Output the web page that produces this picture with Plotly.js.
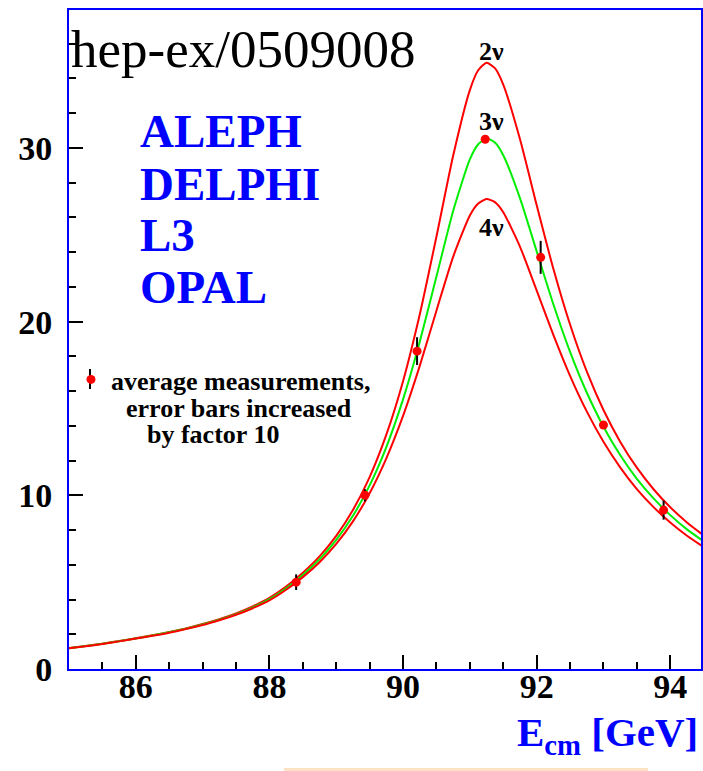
<!DOCTYPE html>
<html>
<head>
<meta charset="utf-8">
<script src="https://cdn.plot.ly/plotly-3.0.1.min.js"></script>
<style>html,body{margin:0;padding:0;background:#fff;}#chart{width:703px;height:771px;}</style>
</head>
<body>
<div id="chart"></div>
<script>
// Centre-of-mass energy grid (GeV) for the theory curves
const energy = [85.00, 85.25, 85.50, 85.75, 86.00, 86.25, 86.50, 86.75, 87.00, 87.25, 87.50, 87.75, 88.00,
  88.25, 88.50, 88.75, 89.00, 89.25, 89.50, 89.75, 90.00, 90.25, 90.50, 90.75, 91.00,
  91.125, 91.25, 91.375,
  91.50, 91.75, 92.00, 92.25, 92.50, 92.75, 93.00, 93.25, 93.50, 93.75, 94.00, 94.25, 94.50];

// Hadronic cross section (nb) for 2, 3 and 4 neutrino families
const sigma2nu = [1.21, 1.33, 1.46, 1.61, 1.77, 1.94, 2.13, 2.34, 2.59, 2.87, 3.20, 3.60, 4.09,
  4.74, 5.54, 6.48, 7.66, 9.15, 11.05, 13.49, 16.57, 20.41, 24.89, 29.55, 33.33,
  34.47, 34.90, 34.59,
  33.65, 30.51, 26.71, 23.04, 19.83, 17.13, 14.91, 13.09, 11.59, 10.35, 9.31, 8.44, 7.69];
const sigma3nu = [1.20, 1.32, 1.45, 1.60, 1.76, 1.93, 2.11, 2.32, 2.56, 2.84, 3.16, 3.55, 4.02,
  4.65, 5.41, 6.31, 7.43, 8.82, 10.57, 12.78, 15.52, 18.84, 22.59, 26.37, 29.34,
  30.21, 30.55, 30.31,
  29.58, 27.11, 24.05, 21.00, 18.26, 15.92, 13.95, 12.32, 10.95, 9.82, 8.86, 8.04, 7.35];
const sigma4nu = [1.19, 1.31, 1.44, 1.59, 1.75, 1.91, 2.09, 2.30, 2.53, 2.81, 3.12, 3.50, 3.95,
  4.56, 5.29, 6.15, 7.20, 8.50, 10.12, 12.13, 14.57, 17.45, 20.63, 23.73, 26.11,
  26.80, 27.06, 26.88,
  26.30, 24.32, 21.80, 19.24, 16.88, 14.83, 13.08, 11.61, 10.36, 9.32, 8.43, 7.67, 7.02];

// Average measurements (error bars x10)
const measE = [88.40, 89.43, 90.21, 91.23, 92.06, 93.00, 93.90];
const measSigma = [5.0, 10.0, 18.3, 30.5, 23.7, 14.05, 9.15];
const measErr10 = [0.45, 0.35, 0.8, 0.12, 0.95, 0.2, 0.55];

const curveLabels = ['2ν', '3ν', '4ν'];
const experiments = ['ALEPH', 'DELPHI', 'L3', 'OPAL'];
const legendLines = ['average measurements,', 'error bars increased', 'by factor 10'];
const xTickVals = [86, 88, 90, 92, 94];
const yTickVals = [0, 10, 20, 30];

const serif = 'Liberation Serif, Times New Roman, serif';
const W = 703, H = 771, ML = 69, MR = 2, MT = 10, MB = 102;
const PW = W - ML - MR, PH = H - MT - MB;
const px = (x) => (x - ML) / PW;
const py = (y) => (H - MB - y) / PH;

const traces = [
  {x: energy, y: sigma2nu, type: 'scatter', mode: 'lines', line: {color: '#ff0000', width: 2, shape: 'spline', smoothing: 0.6}, showlegend: false, hoverinfo: 'skip'},
  {x: energy, y: sigma3nu, type: 'scatter', mode: 'lines', line: {color: '#00ee00', width: 2, shape: 'spline', smoothing: 0.6}, showlegend: false, hoverinfo: 'skip'},
  {x: energy, y: sigma4nu, type: 'scatter', mode: 'lines', line: {color: '#ff0000', width: 2, shape: 'spline', smoothing: 0.6}, showlegend: false, hoverinfo: 'skip'},
  {x: measE, y: measSigma, type: 'scatter', mode: 'markers',
   name: legendLines[0],
   marker: {color: '#ff0000', size: 9, symbol: 'circle'},
   error_y: {type: 'data', array: measErr10, visible: true, color: '#000000', thickness: 2, width: 0},
   showlegend: true}
];

const annotations = [
  {xref: 'paper', yref: 'paper', x: px(69), y: py(49), xanchor: 'left', yanchor: 'middle', showarrow: false,
   text: 'hep-ex/0509008', font: {family: serif, size: 53, color: '#000000'}}
];
const expBaselines = [147, 200, 251, 303];
experiments.forEach((t, i) => annotations.push({
  xref: 'paper', yref: 'paper', x: px(138), y: py(expBaselines[i] - 16), xanchor: 'left', yanchor: 'middle', showarrow: false,
  text: t, font: {family: serif, size: 47, color: '#0000ff', weight: 'bold'}
}));
// second and third legend lines
const legendLineX = [124, 145];
const legendLineY = [408, 435];
[1, 2].forEach((k, j) => annotations.push({
  xref: 'paper', yref: 'paper', x: px(legendLineX[j]), y: py(legendLineY[j]), xanchor: 'left', yanchor: 'middle', showarrow: false,
  text: legendLines[k], font: {family: serif, size: 26, color: '#000000', weight: 'bold'}
}));
const labelY = [35.55, 31.5, 25.4];
curveLabels.forEach((t, i) => annotations.push({
  xref: 'x', yref: 'y', x: 91.32, y: labelY[i], xanchor: 'center', yanchor: 'middle', showarrow: false,
  text: t, font: {family: serif, size: 26, color: '#000000', weight: 'bold'}
}));
annotations.push({
  xref: 'paper', yref: 'paper', x: px(700), y: py(735), xanchor: 'right', yanchor: 'middle', showarrow: false,
  text: 'E<sub>cm</sub> [GeV]', font: {family: serif, size: 41, color: '#0000ff', weight: 'bold'}
});

const axisCommon = {
  showline: true, linecolor: '#0000ff', linewidth: 2, mirror: true,
  showgrid: false, zeroline: false,
  ticks: 'inside', ticklen: 14, tickwidth: 2, tickcolor: '#000000',
  tickfont: {family: serif, size: 34, color: '#000000', weight: 'bold'}
};

const layout = {
  width: W, height: H,
  margin: {l: ML, r: MR, t: MT, b: MB, pad: 0},
  paper_bgcolor: '#ffffff', plot_bgcolor: '#ffffff',
  xaxis: Object.assign({}, axisCommon, {range: [85, 94.46], tickvals: xTickVals, ticktext: xTickVals.map(String),
    ticklabelstandoff: -14,
    minor: {dtick: 0.5, tick0: 85, ticks: 'inside', ticklen: 7, tickwidth: 2, tickcolor: '#000000'}}),
  yaxis: Object.assign({}, axisCommon, {range: [0, 37.94], tickvals: yTickVals, ticktext: yTickVals.map(String),
    ticklabelstandoff: 8,
    minor: {dtick: 2, tick0: 0, ticks: 'inside', ticklen: 7, tickwidth: 2, tickcolor: '#000000'}}),
  showlegend: true,
  legend: {x: px(71), y: py(356), xanchor: 'left', yanchor: 'top', valign: 'middle',
    bgcolor: 'rgba(0,0,0,0)', borderwidth: 0,
    font: {family: serif, size: 26, color: '#000000', weight: 'bold'}},
  annotations: annotations,
  shapes: [
    {type: 'line', xref: 'paper', yref: 'paper', x0: px(284), x1: px(648), y0: py(769.5), y1: py(769.5),
     line: {color: '#fde2c4', width: 3}},
    {type: 'line', xref: 'paper', yref: 'paper', x0: px(90), x1: px(90), y0: py(369), y1: py(389),
     line: {color: '#000000', width: 2}}
  ]
};

Plotly.newPlot('chart', traces, layout, {displayModeBar: false, staticPlot: true});
</script>
</body>
</html>
